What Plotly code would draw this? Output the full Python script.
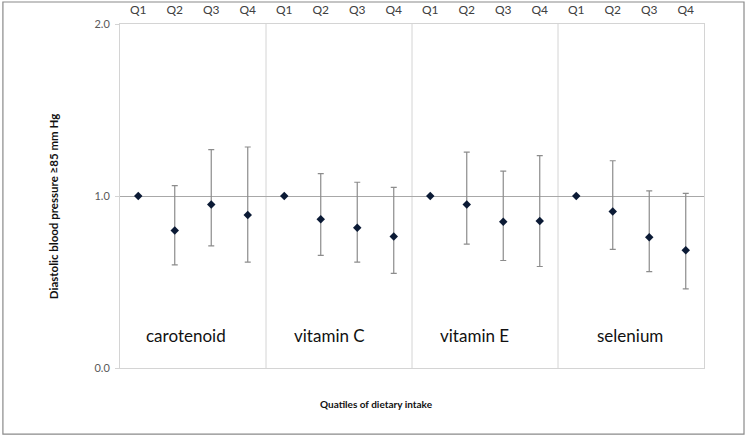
import plotly.graph_objects as go

nutrients = ["carotenoid", "vitamin C", "vitamin E", "selenium"]
quartiles = ["Q1", "Q2", "Q3", "Q4"]

or_carotenoid = [1.0, 0.80, 0.95, 0.89]
lo_carotenoid = [1.0, 0.60, 0.71, 0.615]
hi_carotenoid = [1.0, 1.06, 1.27, 1.285]

or_vitc = [1.0, 0.865, 0.815, 0.765]
lo_vitc = [1.0, 0.655, 0.615, 0.55]
hi_vitc = [1.0, 1.13, 1.08, 1.05]

or_vite = [1.0, 0.95, 0.85, 0.855]
lo_vite = [1.0, 0.72, 0.625, 0.59]
hi_vite = [1.0, 1.255, 1.145, 1.235]

or_sel = [1.0, 0.91, 0.76, 0.685]
lo_sel = [1.0, 0.69, 0.56, 0.46]
hi_sel = [1.0, 1.205, 1.03, 1.015]

ors = or_carotenoid + or_vitc + or_vite + or_sel
los = lo_carotenoid + lo_vitc + lo_vite + lo_sel
his = hi_carotenoid + hi_vitc + hi_vite + hi_sel
xs = list(range(len(ors)))
ticktext = quartiles * len(nutrients)

FONT = "Lato"

fig = go.Figure()
fig.add_trace(go.Scatter(
    x=xs, y=ors, mode="markers",
    marker=dict(symbol="diamond", size=6.5, color="#0b1a35"),
    error_y=dict(type="data", symmetric=False,
                 array=[h - o for h, o in zip(his, ors)],
                 arrayminus=[o - l for o, l in zip(ors, los)],
                 color="#8c8c8c", thickness=1.2, width=3),
    showlegend=False, hoverinfo="skip",
))

# panel dividers
for k in range(1, len(nutrients)):
    fig.add_shape(type="line", xref="x", yref="paper",
                  x0=4 * k - 0.5, x1=4 * k - 0.5, y0=0, y1=1,
                  line=dict(color="#d4d4d4", width=1), layer="below")
# outer chart border
fig.add_shape(type="rect", xref="paper", yref="paper",
              x0=-0.2005, x1=1.0685, y0=-0.192, y1=1.064,
              line=dict(color="#8a8a8a", width=1.2))

label_x = [1.31, 5.23, 9.2, 13.47]
for name, lx in zip(nutrients, label_x):
    fig.add_annotation(x=lx, y=0.19, xref="x", yref="y", text=name,
                       showarrow=False, font=dict(family=FONT, size=17, color="#111111"))

fig.add_annotation(x=0.44, y=-0.105, xref="paper", yref="paper",
                   xanchor="center", yanchor="middle",
                   text="<b>Quatiles of dietary intake</b>", showarrow=False,
                   font=dict(family=FONT, size=10, color="#111111"))
fig.add_annotation(x=-0.115, y=0.47, xref="paper", yref="paper",
                   xanchor="center", yanchor="middle",
                   text="<b>Diastolic blood pressure ≥85 mm Hg</b>", showarrow=False,
                   textangle=-90,
                   font=dict(family=FONT, size=11.5, color="#111111"))

fig.update_layout(
    width=747, height=437,
    margin=dict(l=120, r=43, t=24, b=69, autoexpand=False),
    paper_bgcolor="white", plot_bgcolor="white",
    font=dict(family=FONT),
    xaxis=dict(range=[-0.5, 15.5], tickvals=xs, ticktext=ticktext, side="top",
               showgrid=False, zeroline=False, showline=True, mirror=True,
               linecolor="#d4d4d4", linewidth=1, automargin=False,
               ticks="outside", ticklen=4, tickcolor="rgba(0,0,0,0)",
               tickfont=dict(family=FONT, size=12, color="#404040"), fixedrange=True),
    yaxis=dict(range=[0, 2], tickvals=[0, 1, 2], ticktext=["0.0", "1.0", "2.0"],
               showgrid=True, gridcolor="#a8a8a8", gridwidth=1, zeroline=False,
               showline=True, mirror=True, linecolor="#d4d4d4", linewidth=1,
               automargin=False,
               ticks="outside", ticklen=4, tickcolor="#d4d4d4", ticklabelstandoff=3,
               tickfont=dict(family=FONT, size=11, color="#595959"), fixedrange=True),
)

fig.write_html("out.html", config={"displayModeBar": False},
               post_script="document.body.style.margin='0';document.body.style.overflow='hidden';")
